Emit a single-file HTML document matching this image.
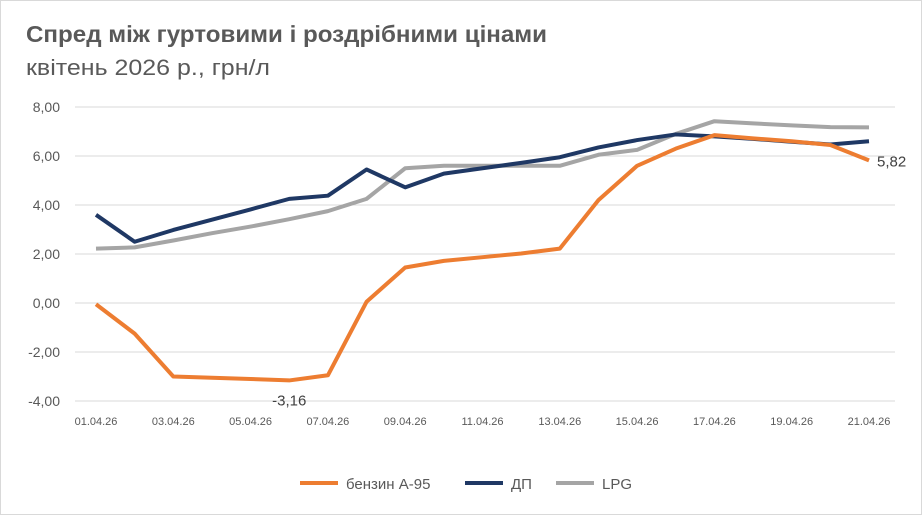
<!DOCTYPE html>
<html><head><meta charset="utf-8"><style>
body{margin:0;background:#fff;}
svg{display:block;font-family:"Liberation Sans","DejaVu Sans",sans-serif;}
</style></head><body>
<svg id="chart" width="922" height="515">
<rect x="0.5" y="0.5" width="921" height="514" fill="#fff" stroke="#d9d9d9"/>
<text x="26" y="42" font-size="23" font-weight="bold" fill="#595959" textLength="521" lengthAdjust="spacingAndGlyphs">Спред між гуртовими і роздрібними цінами</text>
<text x="26" y="75" font-size="22" fill="#595959" textLength="244" lengthAdjust="spacingAndGlyphs">квітень 2026 р., грн/л</text>
<g id="grid"></g><g id="axes"></g><g id="series"></g>
<g>
<line x1="300" y1="483" x2="338" y2="483" stroke="#ed7d31" stroke-width="4"/>
<text x="346" y="489" font-size="15" fill="#595959">бензин А-95</text>
<line x1="465" y1="483" x2="503" y2="483" stroke="#1f3864" stroke-width="4"/>
<text x="511" y="489" font-size="15" fill="#595959">ДП</text>
<line x1="556" y1="483" x2="594" y2="483" stroke="#a5a5a5" stroke-width="4"/>
<text x="602" y="489" font-size="15" fill="#595959">LPG</text>
</g>
</svg>
<script>
const dates=["01.04.26","02.04.26","03.04.26","04.04.26","05.04.26","06.04.26","07.04.26","08.04.26","09.04.26","10.04.26","11.04.26","12.04.26","13.04.26","14.04.26","15.04.26","16.04.26","17.04.26","18.04.26","19.04.26","20.04.26","21.04.26"];
const a95=[-0.05,-1.25,-3.0,-3.05,-3.1,-3.16,-2.95,0.05,1.45,1.72,1.87,2.02,2.22,4.2,5.6,6.3,6.85,6.72,6.6,6.45,5.82];
const dp=[3.6,2.5,2.98,3.4,3.82,4.25,4.38,5.45,4.72,5.28,5.5,5.72,5.95,6.35,6.65,6.88,6.8,6.7,6.58,6.47,6.6];
const lpg=[2.22,2.27,2.55,2.85,3.12,3.42,3.75,4.25,5.5,5.6,5.6,5.6,5.6,6.05,6.25,6.9,7.42,7.33,7.25,7.18,7.17];
const yTicks=[8,6,4,2,0,-2,-4];
const NS="http://www.w3.org/2000/svg";
const x=i=>96+i*(869-96)/(dates.length-1);
const y=v=>303-v*24.5;
function mk(t,a,p){const e=document.createElementNS(NS,t);for(const k in a)e.setAttribute(k,a[k]);p.appendChild(e);return e;}
const grid=document.getElementById('grid'),axes=document.getElementById('axes'),ser=document.getElementById('series');
yTicks.forEach(v=>{
 const l=mk('line',{x1:75,x2:895,y1:y(v),y2:y(v),stroke:'#d9d9d9','stroke-width':1},grid);
 
 
 const t=mk('text',{x:60,y:y(v)+5,'text-anchor':'end','font-size':14,fill:'#595959'},axes);
 t.textContent=v.toFixed(2).replace('.',',');
 
 
});
dates.forEach((d,i)=>{if(i%2)return;
 const t=mk('text',{x:x(i),y:425,'text-anchor':'middle','font-size':11,fill:'#595959'},axes);
 t.textContent=d;
 
 
});
function line(arr,c,name){
 const p=mk('polyline',{points:arr.map((v,i)=>x(i)+','+y(v)).join(' '),fill:'none',stroke:c,'stroke-width':4,'stroke-linejoin':'round'},ser);
 
 
}
line(lpg,'#a5a5a5','lpg-line');
line(dp,'#1f3864','dp-line');
line(a95,'#ed7d31','a95-line');
let mi=0;a95.forEach((v,i)=>{if(v<a95[mi])mi=i;});
const l1=mk('text',{x:x(mi),y:y(a95[mi])+25,'text-anchor':'middle','font-size':15,fill:'#404040'},ser);
l1.textContent=a95[mi].toFixed(2).replace('.',',');


const li=a95.length-1;
const l2=mk('text',{x:x(li)+8,y:y(a95[li])+6,'font-size':15,fill:'#404040'},ser);
l2.textContent=a95[li].toFixed(2).replace('.',',');


</script>
</body></html>
